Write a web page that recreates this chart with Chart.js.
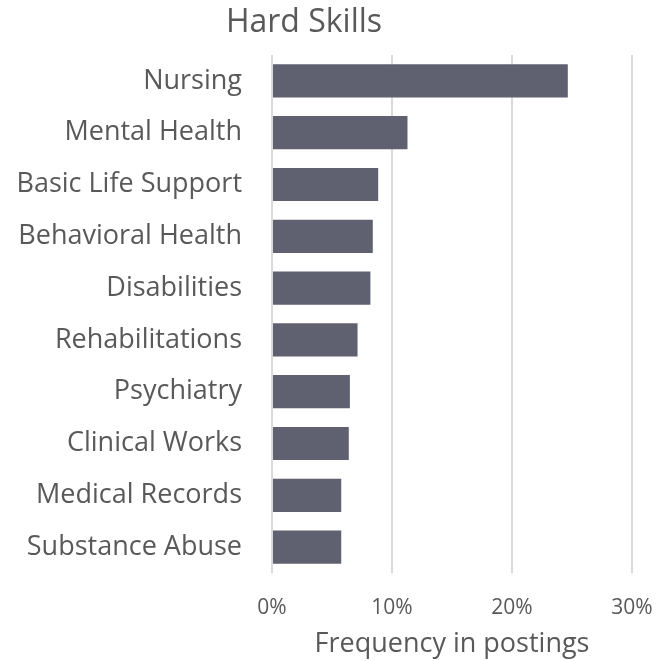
<!DOCTYPE html>
<html>
<head>
<meta charset="utf-8">
<script src="https://cdn.jsdelivr.net/npm/chart.js@4"></script>
<style>
  html, body { margin: 0; padding: 0; background: #fff; }
  #wrap { width: 661px; height: 661px; }
</style>
</head>
<body>
<div id="wrap"><canvas id="chart" width="661" height="661"></canvas></div>
<script>
// Data
const skills = [
  "Nursing", "Mental Health", "Basic Life Support", "Behavioral Health", "Disabilities",
  "Rehabilitations", "Psychiatry", "Clinical Works", "Medical Records", "Substance Abuse"
];
const frequency = [0.2465, 0.1129, 0.0885, 0.084, 0.082, 0.0713, 0.0649, 0.064, 0.0577, 0.0577];
const xTicks = [0, 0.1, 0.2, 0.3];

const TEXT_COLOR = "#595959";
const GRID_COLOR = "#d9d9d9";
const BAR_COLOR  = "#5f6170";
const FONT       = "'Open Sans', sans-serif";

// title sits a bit left of the canvas centre, like the original
const titlePlugin = {
  id: "hardTitle",
  afterDraw(chart) {
    const ctx = chart.ctx;
    ctx.save();
    ctx.font = "32px " + FONT;
    ctx.fillStyle = TEXT_COLOR;
    ctx.textAlign = "center";
    ctx.textBaseline = "middle";
    ctx.fillText("Hard Skills", 304, 23);
    ctx.restore();
  }
};

new Chart(document.getElementById("chart"), {
  type: "bar",
  data: {
    labels: skills,
    datasets: [{
      data:            frequency,
      backgroundColor: BAR_COLOR,
      borderWidth:     0,
      barPercentage:   0.64,
      categoryPercentage: 1.0,
    }],
  },
  options: {
    indexAxis: "y",
    responsive: false,
    animation: false,
    layout: { padding: { top: 55, right: 29, left: 0, bottom: 0 } },
    plugins: {
      legend:  { display: false },
      tooltip: { enabled: false },
      title:   { display: false },
    },
    scales: {
      x: {
        min: 0,
        max: 0.3,
        afterBuildTicks(scale) { scale.ticks = xTicks.map(v => ({ value: v })); },
        afterFit(scale) {
          scale.height = 88;
          scale.paddingLeft = 0;
          scale.paddingRight = 0; // let the 30% label hang past the plot edge
        },
        grid:   { color: GRID_COLOR, lineWidth: 2, drawTicks: false },
        border: { display: false },
        ticks: {
          padding: 22,
          color: TEXT_COLOR,
          font: { family: FONT, size: 21 },
          callback: v => Math.round(v * 100) + "%",
        },
        title: {
          display: true,
          text: "Frequency in postings",
          color: TEXT_COLOR,
          font: { family: FONT, size: 27 },
          padding: { top: 1, bottom: 0 },
        },
      },
      y: {
        afterFit(scale) { scale.width = 272; },
        grid:   { display: false, drawTicks: false },
        border: { display: false },
        ticks: {
          padding: 30,
          color: TEXT_COLOR,
          font: { family: FONT, size: 27 },
        },
      },
    },
  },
  plugins: [titlePlugin],
});
</script>
</body>
</html>
